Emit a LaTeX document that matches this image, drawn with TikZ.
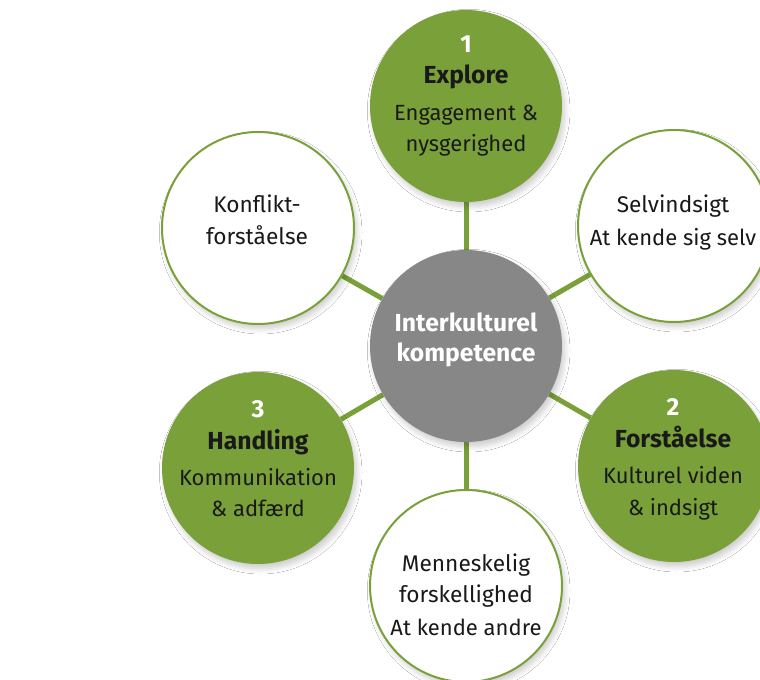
\documentclass[tikz,border=0pt]{standalone}
\usepackage{fontspec}
\setmainfont{Fira Sans}
\usetikzlibrary{shadows.blur}
\definecolor{kgreen}{RGB}{122,161,57}
\definecolor{kgray}{RGB}{135,135,135}
\definecolor{ktext}{RGB}{25,25,25}
\pgfdeclarelayer{bg}
\pgfsetlayers{bg,main}
\begin{document}
\begin{tikzpicture}[x=0.75pt,y=-0.75pt,
  bubble/.style={circle, minimum size=144pt, inner sep=0pt,
    blur shadow={shadow xshift=2pt, shadow yshift=-3.5pt, shadow blur radius=4pt, shadow opacity=20, shadow blur steps=8}},
  greenbubble/.style={bubble, fill=kgreen},
  whitebubble/.style={bubble, fill=white, draw=kgreen, line width=1.5pt},
  graybubble/.style={bubble, fill=kgray},
  txt/.style={anchor=base, align=center, text=ktext, inner sep=0pt,
    font=\fontsize{16.5}{23.5}\selectfont},
  conn/.style={draw=kgreen, line width=3.75pt}]
\useasboundingbox (0,0) rectangle (760,680);
% circles
\node[graybubble]  (c)  at (466,346) {};
\node[greenbubble] (n1) at (466,106) {};
\node[whitebubble] (n2) at (674,226) {};
\node[greenbubble] (n3) at (674,466) {};
\node[whitebubble] (n4) at (466,586) {};
\node[greenbubble] (n5) at (258,468) {};
\node[whitebubble] (n6) at (258,228) {};
% background and connectors
\begin{pgfonlayer}{bg}
\fill[white] (0,0) rectangle (760,680);
\foreach \n in {n1,n2,n3,n4,n5,n6} \draw[conn] (c) -- (\n);
\end{pgfonlayer}
% texts (anchored at the baseline of the last line)
\node[txt] (t1) at (466,152) {{\fontsize{18.5}{23.5}\selectfont\bfseries\color{white}1}\\{\fontsize{18.5}{23.5}\selectfont\bfseries Explore}\\[4pt]Engagement \&\\nysgerighed};
\node[txt] (t2) at (673,246) {{\fontsize{17}{23.5}\selectfont Selvindsigt}\\[1.5pt]At kende sig selv};
\node[txt] (t3) at (673,515) {{\fontsize{18.5}{23.5}\selectfont\bfseries\color{white}2}\\{\fontsize{18.5}{23.5}\selectfont\bfseries Forståelse}\\[4pt]Kulturel viden\\\& indsigt};
\node[txt, font=\fontsize{17}{23}\selectfont] (t4) at (466,635) {Menneskelig\\forskellighed\\[1.5pt]{\fontsize{16.5}{23.5}\selectfont At kende andre}};
\node[txt] (t5) at (258,517) {{\fontsize{18.5}{23.5}\selectfont\bfseries\color{white}3}\\{\fontsize{18.5}{23.5}\selectfont\bfseries Handling}\\[4pt]Kommunikation\\\& adfærd};
\node[txt, font=\fontsize{17}{24}\selectfont] (t6) at (257,245) {Konflikt-\\forståelse};
\node[txt, text=white, font=\fontsize{18.5}{22.5}\selectfont\bfseries] (tc) at (466,362) {Interkulturel\\kompetence};
\end{tikzpicture}
\end{document}
